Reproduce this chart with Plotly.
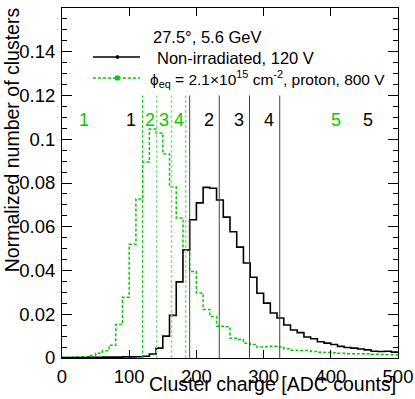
import plotly.graph_objects as go

# bin edges of the cluster charge histograms (ADC counts)
bin_edges = list(range(0, 510, 10))

# Non-irradiated, 120 V
non_irr = [0.0002, 0.0002, 0.0002, 0.0002, 0.0003, 0.0003, 0.0004, 0.0004, 0.0004, 0.0005,
           0.0005, 0.0006, 0.0008, 0.0018, 0.0045, 0.0100, 0.0195, 0.0348, 0.0494, 0.0632,
           0.0709, 0.0780, 0.0776, 0.0722, 0.0644, 0.0577, 0.0507, 0.0434, 0.0369, 0.0296,
           0.0251, 0.0206, 0.0183, 0.0151, 0.0128, 0.0116, 0.0096, 0.0088, 0.0074, 0.0068,
           0.0062, 0.0053, 0.0048, 0.0045, 0.0041, 0.0037, 0.0031, 0.0030, 0.0031, 0.0027]

# phi_eq = 2.1e15, proton, 800 V
irr = [0.0002, 0.0004, 0.0005, 0.0006, 0.0012, 0.0022, 0.0033, 0.0058, 0.0153, 0.0278,
       0.0520, 0.0727, 0.0896, 0.1047, 0.1029, 0.0933, 0.0782, 0.0640, 0.0495, 0.0396,
       0.0297, 0.0222, 0.0190, 0.0145, 0.0143, 0.0090, 0.0085, 0.0068, 0.0062, 0.0050,
       0.0052, 0.0054, 0.0050, 0.0042, 0.0036, 0.0034, 0.0034, 0.0030, 0.0026, 0.0025,
       0.0024, 0.0022, 0.0020, 0.0020, 0.0019, 0.0020, 0.0017, 0.0016, 0.0015, 0.0015]

# charge thresholds separating cluster sizes
black_cuts = [190, 234, 279, 324]
green_cuts = [120, 141, 163, 184]
cut_top = 0.12

# cluster size labels
black_lbl_x = [103, 218, 263.5, 308, 456]
black_lbl = ["1", "2", "3", "4", "5"]
green_lbl_x = [33, 131, 152, 174.5, 407]
green_lbl = ["1", "2", "3", "4", "5"]
lbl_y = 0.109

# axis ticks
x_ticks = [0, 100, 200, 300, 400, 500]
y_ticks = [0, 0.02, 0.04, 0.06, 0.08, 0.1, 0.12, 0.14, 0.16]
y_tick_text = ["0", "0.02", "0.04", "0.06", "0.08", "0.1", "0.12", "0.14", "0.16"]

GREEN = "#00cc00"
FONT = "Liberation Sans, Arial, Helvetica, sans-serif"

fig = go.Figure()

# histograms drawn as steps
fig.add_trace(go.Scatter(
    x=bin_edges, y=irr + [irr[-1]], mode="lines", line_shape="hv",
    line=dict(color=GREEN, width=1.5, dash="3px,2px"), showlegend=False, hoverinfo="skip"))
fig.add_trace(go.Scatter(
    x=bin_edges, y=non_irr + [non_irr[-1]], mode="lines", line_shape="hv",
    line=dict(color="black", width=1.6), showlegend=False, hoverinfo="skip"))

# vertical threshold lines
for c in black_cuts:
    fig.add_shape(type="line", x0=c, x1=c, y0=0, y1=cut_top, xref="x", yref="y",
                  line=dict(color="#444444", width=1))
for i, c in enumerate(green_cuts):
    fig.add_shape(type="line", x0=c, x1=c, y0=0, y1=cut_top, xref="x", yref="y",
                  line=dict(color=GREEN if i == 0 else "#8fe08f", width=1 if i == 0 else 1.5,
                            dash="3px,2px"))

for x, t in zip(black_lbl_x, black_lbl):
    fig.add_annotation(x=x, y=lbl_y, text=t, showarrow=False,
                       font=dict(size=18, color="black", family=FONT))
for x, t in zip(green_lbl_x, green_lbl):
    fig.add_annotation(x=x, y=lbl_y, text=t, showarrow=False,
                       font=dict(size=18, color=GREEN, family=FONT))

# legend (ROOT style, drawn by hand)
fig.add_annotation(xref="paper", yref="paper", x=0.265, y=0.917, xanchor="left", yanchor="middle",
                   text="27.5°, 5.6 GeV", showarrow=False, font=dict(size=16.5, color="black", family=FONT))
fig.add_annotation(xref="paper", yref="paper", x=0.277, y=0.857, xanchor="left", yanchor="middle",
                   text="Non-irradiated, 120 V", showarrow=False, font=dict(size=16.5, color="black", family=FONT))
fig.add_annotation(xref="paper", yref="paper", x=0.256, y=0.797, xanchor="left", yanchor="middle",
                   text="ϕ<sub>eq</sub> = 2.1×10<sup>15</sup> cm<sup>-2</sup>, proton, 800 V",
                   showarrow=False, font=dict(size=15.5, color="black", family=FONT))
fig.add_shape(type="line", xref="paper", yref="paper", x0=0.092, x1=0.232, y0=0.86, y1=0.86,
              line=dict(color="black", width=1.5))
fig.add_shape(type="circle", xref="paper", yref="paper", x0=0.160, x1=0.170, y0=0.854, y1=0.866,
              fillcolor="black", line=dict(color="black", width=0))
fig.add_shape(type="line", xref="paper", yref="paper", x0=0.092, x1=0.232, y0=0.80, y1=0.80,
              line=dict(color=GREEN, width=1.5, dash="3px,2px"))
fig.add_shape(type="rect", xref="paper", yref="paper", x0=0.158, x1=0.172, y0=0.793, y1=0.807,
              fillcolor=GREEN, line=dict(color=GREEN, width=0))

# axis titles, right/top aligned as in ROOT
fig.add_annotation(xref="paper", yref="paper", x=1.0, y=-0.074, xanchor="right", yanchor="middle",
                   text="Cluster charge [ADC counts]", showarrow=False,
                   font=dict(size=19.5, color="black", family=FONT))
fig.add_annotation(xref="paper", yref="paper", x=-0.149, y=1.009, xanchor="center", yanchor="top",
                   textangle=-90, text="Normalized number of clusters", showarrow=False,
                   font=dict(size=19.5, color="black", family=FONT))

fig.update_layout(
    width=415, height=399,
    margin=dict(l=62, r=17, t=8, b=41, autoexpand=False),
    paper_bgcolor="white", plot_bgcolor="white",
    font=dict(family=FONT, size=18, color="black"),
    showlegend=False,
)
fig.update_xaxes(
    range=[0, 500], tickvals=x_ticks, automargin=False,
    ticks="inside", ticklen=8, tickcolor="black", showline=True, linecolor="black",
    linewidth=1, mirror="ticks", showgrid=False, zeroline=False, ticklabelstandoff=2,
    tickfont=dict(size=18.5),
)
fig.update_yaxes(
    range=[0, 0.16], tickvals=y_ticks, ticktext=y_tick_text, automargin=False,
    ticks="inside", ticklen=10, tickcolor="black", showline=True, linecolor="black",
    linewidth=1, mirror="ticks", showgrid=False, zeroline=False, ticklabelstandoff=2,
    tickfont=dict(size=18.5),
    minor=dict(tickvals=[v / 1000 for v in range(5, 160, 5)], ticks="inside", ticklen=5,
               tickcolor="black", showgrid=False),
)

# drop the default body margin so the figure sits at the page corner
fig.write_html("out.html", config={"displayModeBar": False},
               post_script="document.body.style.margin='0';")
